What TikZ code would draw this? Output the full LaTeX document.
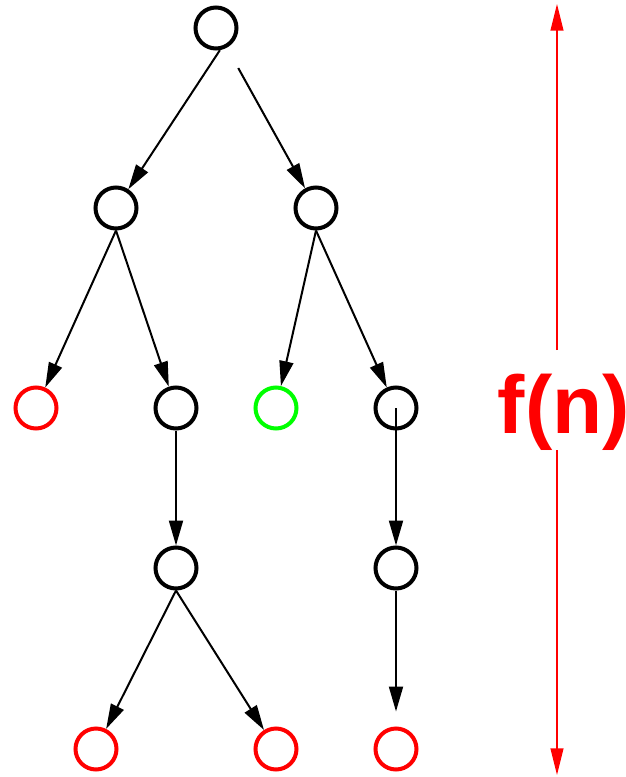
\documentclass[tikz,border=0pt]{standalone}
\usepackage{fontspec}
\newfontfamily\labelfont{Liberation Sans}
\usepackage{tikz}
\usetikzlibrary{arrows.meta}
\definecolor{Leaf}{HTML}{FF0000}
\definecolor{Goal}{HTML}{00FF00}

\begin{document}
\begin{tikzpicture}[x=0.03cm,y=-0.03cm,
    state/.style={circle,draw=black,line width=0.12cm,minimum size=1.23cm,inner sep=0pt},
    edge/.style={line width=0.06cm,-{Triangle[length=0.75cm,width=0.42cm]}},
    span/.style={draw=Leaf,line width=0.06cm,-{Triangle[length=0.8cm,width=0.38cm]}}
]
\useasboundingbox (0,0) rectangle (626,777);
% search tree
\node[state] (s) at (216,28) {};
\node[state] (a) at (116,208) {};
\node[state] (b) at (316,208) {};
\node[state,draw=Leaf] (a1) at (36,408) {};
\node[state] (a2) at (176,408) {};
\node[state,draw=Goal] (b1) at (276,408) {};
\node[state] (b2) at (396,408) {};
\node[state] (a21) at (176,568) {};
\node[state] (b21) at (396,568) {};
\node[state,draw=Leaf] (a211) at (96,749) {};
\node[state,draw=Leaf] (a212) at (276,749) {};
\node[state,draw=Leaf] (b211) at (396,749) {};
\foreach \u/\v in {a/a1,a/a2,b/b1,b/b2,a2/a21,a21/a211,a21/a212}{
    \draw[edge] (\u.south) -- (\v);
}
\draw[edge] (s.-80) -- (a);
\draw[edge,shorten <=0.7cm] (s) -- (b);
\draw[edge] (b2.center) -- (b21);
\draw[edge,shorten >=0.45cm] (b21) -- (b211);
% depth
\coordinate (top) at (557,4);
\coordinate (bot) at (557,775);
\node[anchor=base,text=Leaf,inner sep=0pt,font=\labelfont\bfseries\fontsize{70}{70}\selectfont] (fn) at (564,433) {f(n)};
\draw[span,shorten <=0.7cm] (top |- fn.north) -- (top);
\draw[span] (bot |- fn.south) -- (bot);
\end{tikzpicture}
\end{document}
